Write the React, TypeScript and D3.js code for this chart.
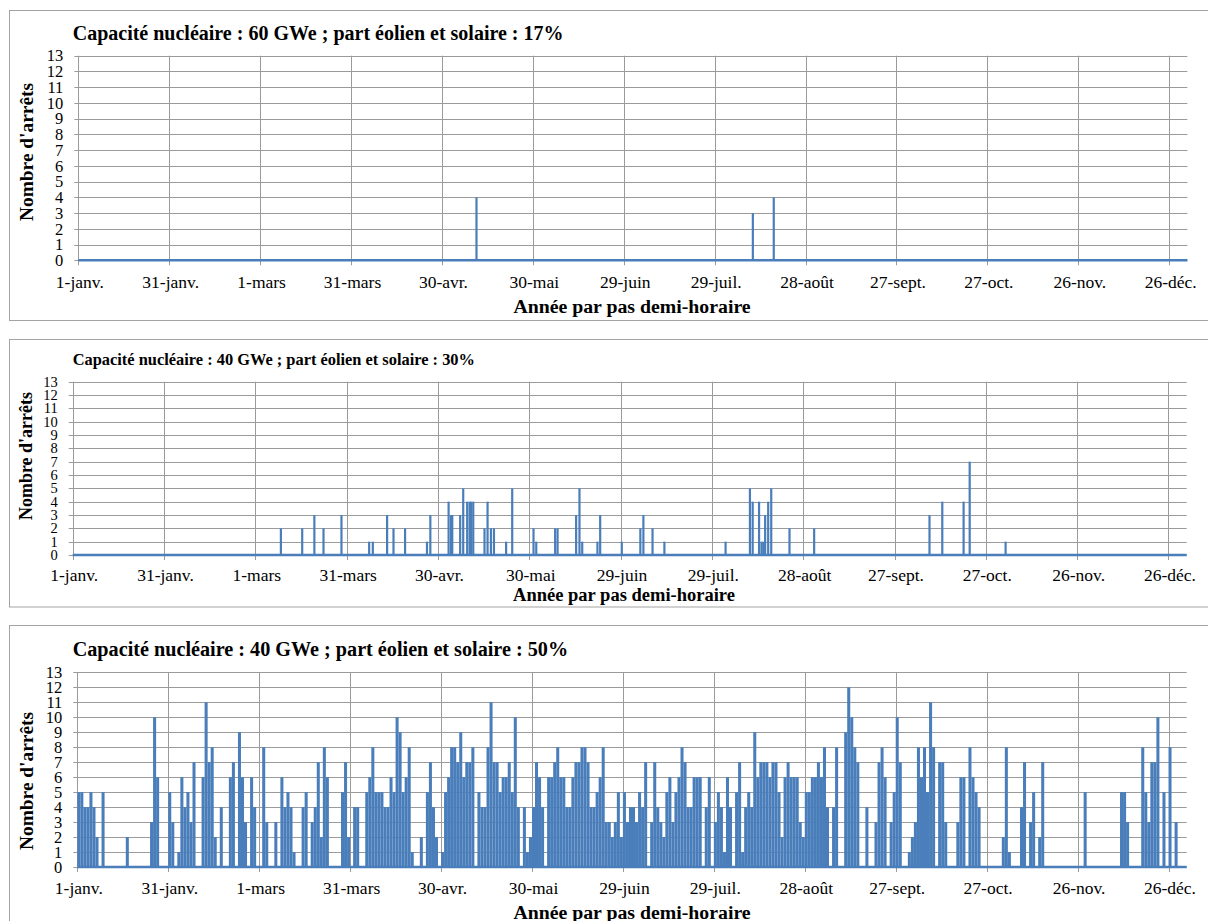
import * as d3 from 'd3'
import React from 'react'

// axis labels shared by the three charts (leap year, one tick every 30 days)
const tickDays = [0, 30, 60, 90, 120, 150, 180, 210, 240, 270, 300, 330, 360];
const tickLabels = ['1-janv.', '31-janv.', '1-mars', '31-mars', '30-avr.', '30-mai', '29-juin', '29-juil.', '28-août', '27-sept.', '27-oct.', '26-nov.', '26-déc.'];
const yTicks = [0, 1, 2, 3, 4, 5, 6, 7, 8, 9, 10, 11, 12, 13];
const yearDays = 366;

// chart 1 : 60 GWe, 17 % -> isolated stops (day of year, number of stops)
const stopDays60 = [131.4, 222.6, 229.5];
const stopCounts60 = [4, 3, 4];

// chart 2 : 40 GWe, 30 %
const stopDays40 = [68.4, 75.4, 79.4, 82.4, 88.3, 97.4, 98.6, 103.3, 105.4, 109.2, 116.4, 117.5, 123.5, 124.3, 124.7,
    127.3, 128.3, 129.6, 130.4, 130.9, 131.6, 135.3, 136.3, 137.4, 138.4, 142.4, 144.4, 151.4, 152.3, 158.5,
    159.3, 165.4, 166.5, 167.4, 172.4, 173.3, 180.4, 186.5, 187.5, 190.5, 194.4, 214.5, 222.5, 223.4, 225.5,
    226.3, 226.9, 227.5, 228.5, 229.5, 235.5, 243.6, 281.5, 285.7, 292.7, 294.7, 306.5];
const stopCounts40 = [2, 2, 3, 2, 3, 1, 1, 3, 2, 2, 1, 3, 4, 3, 3,
    3, 5, 4, 4, 4, 4, 2, 4, 2, 2, 1, 5, 2, 1, 2,
    2, 3, 5, 1, 1, 3, 1, 2, 3, 2, 1, 1, 5, 4, 4,
    1, 1, 3, 4, 5, 2, 2, 3, 4, 4, 7, 1];

// chart 3 : 40 GWe, 50 % -> max number of stops per day, month by month
const janv50 = [5, 5, 4, 4, 5, 4, 2, 0, 5, 0, 0, 0, 0, 0, 0, 0, 2, 0, 0, 0, 0, 0, 0, 0, 3, 10, 6, 0, 0, 0, 5];
const fevr50 = [3, 0, 1, 6, 4, 5, 3, 7, 0, 0, 6, 11, 7, 8, 2, 0, 4, 0, 0, 6, 7, 0, 9, 6, 3, 0, 6, 4, 0];
const mars50 = [0, 8, 3, 0, 0, 3, 0, 6, 4, 5, 4, 1, 0, 0, 4, 5, 0, 3, 4, 7, 2, 8, 6, 0, 0, 0, 0, 5, 7, 2, 0];
const avr50 = [4, 4, 0, 0, 5, 6, 8, 5, 5, 5, 4, 4, 6, 5, 10, 9, 5, 6, 8, 1, 0, 0, 2, 0, 5, 7, 4, 2, 0, 1];
const mai50 = [5, 6, 8, 8, 7, 9, 6, 7, 7, 8, 0, 5, 4, 4, 8, 11, 7, 7, 5, 6, 6, 7, 5, 10, 4, 0, 4, 1, 2, 4, 7];
const juin50 = [6, 4, 0, 6, 6, 7, 8, 6, 6, 4, 4, 6, 7, 7, 8, 8, 7, 4, 4, 5, 6, 8, 3, 3, 2, 3, 5, 2, 5, 3];
const juil50 = [4, 4, 3, 5, 4, 7, 0, 3, 7, 4, 3, 2, 5, 6, 3, 5, 6, 8, 7, 4, 4, 6, 6, 6, 0, 4, 6, 0, 3, 5, 4];
const aout50 = [1, 6, 4, 0, 5, 7, 1, 4, 5, 4, 9, 6, 7, 7, 7, 6, 7, 7, 5, 2, 6, 7, 6, 6, 6, 3, 2, 5, 5, 6, 6];
const sept50 = [7, 6, 8, 4, 0, 4, 8, 0, 0, 9, 12, 10, 8, 7, 0, 0, 4, 0, 0, 3, 7, 8, 6, 0, 3, 5, 10, 7, 0, 0];
const oct50 = [1, 2, 3, 8, 6, 8, 5, 11, 8, 0, 7, 7, 3, 0, 0, 0, 3, 6, 6, 0, 8, 6, 5, 4, 0, 0, 0, 0, 0, 0, 0];
const nov50 = [2, 8, 1, 0, 0, 0, 4, 7, 0, 3, 5, 0, 2, 7, 0, 0, 0, 0, 0, 0, 0, 0, 0, 0, 0, 0, 0, 5, 0, 0];
const dec50 = [0, 0, 0, 0, 0, 0, 0, 0, 0, 5, 5, 3, 0, 0, 0, 0, 8, 5, 3, 7, 7, 10, 0, 5, 0, 8, 0, 3, 0, 0, 0];

const daily50 = [janv50, fevr50, mars50, avr50, mai50, juin50, juil50, aout50, sept50, oct50, nov50, dec50].flat();

const blue = '#4a7ebb';
const grid = '#9b9b9b';
const font = '"Liberation Serif", "Times New Roman", serif';

interface Layout {
    title: string;
    titleSize: number;
    titleY: number;
    frameTop: number;
    frameBottom: number;
    x0: number;
    x1: number;
    yTop: number;
    yBottom: number;
    labelY: number;
    tickSize: number;
    xTitleX: number;
    xTitleY: number;
    xTitleSize: number;
    yTitleY: number;
    yTitleSize: number;
}

interface PanelProps {
    lay: Layout;
    spikes?: { day: number; count: number }[];
    daily?: number[];
}

const Panel: React.FC<PanelProps> = ({ lay, spikes, daily }) => {
    const x = d3.scaleLinear().domain([0, yearDays]).range([lay.x0, lay.x1]);
    const y = d3.scaleLinear().domain([0, 13]).range([lay.yBottom, lay.yTop]);

    return (
        <g>
            <rect x={9.5} y={lay.frameTop + 0.5} width={1210} height={lay.frameBottom - lay.frameTop}
                fill="white" stroke="#a3a3a3" strokeWidth={1} />
            <text x={72.7} y={lay.titleY} fontFamily={font} fontWeight="bold" fontSize={lay.titleSize}>{lay.title}</text>

            {yTicks.map(t => (
                <g key={'y' + t}>
                    <line x1={lay.x0 - 4} x2={lay.x1} y1={Math.round(y(t)) + 0.5} y2={Math.round(y(t)) + 0.5} stroke={grid} strokeWidth={1} />
                    <text x={lay.x0 - 15} y={y(t)} dy="0.35em" textAnchor="end" fontFamily={font} fontSize={lay.tickSize}>{t}</text>
                </g>
            ))}
            {tickDays.map((d, i) => (
                <g key={'x' + d}>
                    <line x1={Math.round(x(d)) + 0.5} x2={Math.round(x(d)) + 0.5} y1={lay.yTop} y2={lay.yBottom + 5} stroke={grid} strokeWidth={1} />
                    <text x={x(d) + 1.5} y={lay.labelY} textAnchor="middle" fontFamily={font} fontSize={17.5}>{tickLabels[i]}</text>
                </g>
            ))}

            {daily && daily.map((v, d) => v > 0 ? (
                <rect key={'d' + d} x={x(d)} width={x(d + 1) - x(d)} y={y(v)} height={y(0) - y(v)} fill={blue} />
            ) : null)}
            {spikes && spikes.map((s, i) => (
                <line key={'s' + i} x1={x(s.day)} x2={x(s.day)} y1={y(0)} y2={y(s.count)} stroke={blue} strokeWidth={2.2} />
            ))}
            <line x1={x(0)} x2={x(yearDays)} y1={y(0)} y2={y(0)} stroke={blue} strokeWidth={2.5} />

            <text x={lay.xTitleX} y={lay.xTitleY} textAnchor="middle" fontFamily={font} fontWeight="bold" fontSize={lay.xTitleSize}>
                Année par pas demi-horaire
            </text>
            <text transform={`translate(26,${lay.yTitleY}) rotate(-90)`} textAnchor="middle" dy="0.35em"
                fontFamily={font} fontWeight="bold" fontSize={lay.yTitleSize}>
                Nombre d'arrêts
            </text>
        </g>
    );
};

const layout60: Layout = {
    title: 'Capacité nucléaire : 60 GWe ; part éolien et solaire : 17%', titleSize: 20, titleY: 39.5,
    frameTop: 10, frameBottom: 320, x0: 78.3, x1: 1187.4, yTop: 55.7, yBottom: 260.3,
    labelY: 288, tickSize: 16.5, xTitleX: 632, xTitleY: 313, xTitleSize: 19.8, yTitleY: 152, yTitleSize: 19.4,
};
const layout40a: Layout = {
    title: 'Capacité nucléaire : 40 GWe ; part éolien et solaire : 30%', titleSize: 16.4, titleY: 365,
    frameTop: 339, frameBottom: 606.5, x0: 72.7, x1: 1186.7, yTop: 381.7, yBottom: 555,
    labelY: 581, tickSize: 14.5, xTitleX: 624, xTitleY: 601, xTitleSize: 18.5, yTitleY: 456, yTitleSize: 18,
};
const layout40b: Layout = {
    title: 'Capacité nucléaire : 40 GWe ; part éolien et solaire : 50%', titleSize: 20.2, titleY: 655.5,
    frameTop: 625, frameBottom: 1000, x0: 77.3, x1: 1186.7, yTop: 672.3, yBottom: 867,
    labelY: 893.5, tickSize: 16.5, xTitleX: 632, xTitleY: 918.5, xTitleSize: 19.8, yTitleY: 781, yTitleSize: 19.4,
};

export default function App() {
    const spikes60 = stopDays60.map((day, i) => ({ day, count: stopCounts60[i] }));
    const spikes40 = stopDays40.map((day, i) => ({ day, count: stopCounts40[i] }));
    return (
        <svg width={1208} height={921} style={{ position: 'absolute', left: 0, top: 0, background: 'white' }}>
            <Panel lay={layout60} spikes={spikes60} />
            <Panel lay={layout40a} spikes={spikes40} />
            <Panel lay={layout40b} daily={daily50} />
        </svg>
    );
}
